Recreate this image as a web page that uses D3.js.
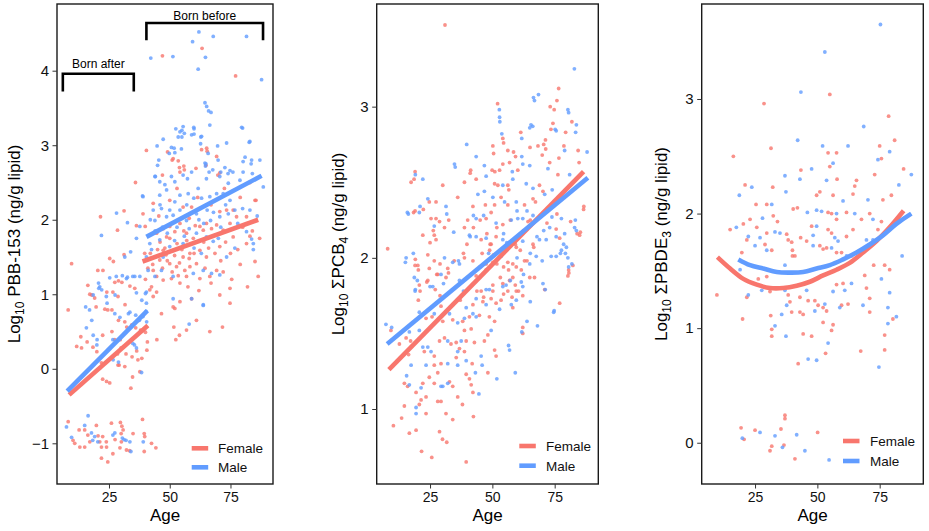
<!DOCTYPE html>
<html><head><meta charset="utf-8">
<script src="https://cdn.jsdelivr.net/npm/d3@7"></script>
<style>
body{margin:0;background:#fff}
svg{display:block}
text{font-family:"Liberation Sans",Arial,Helvetica,sans-serif}
</style>
</head><body>
<svg id="chart" width="929" height="531"></svg>
<script>
// ---------- data ----------
const sexes = ["Female", "Male"];
const ageDomain = [3.6, 92.5];
const xTicks = [25, 50, 75];
const pbbYTicks = [-1, 0, 1, 2, 3, 4];
const pcbYTicks = [1, 2, 3];
const pbdeYTicks = [0, 1, 2, 3];

// Panel 1: PBB-153 [age, log10 value]
const pbbFemale = [[63.3,4.30],[47,4.20],[77.1,3.93],
[40.4,2.93],[49.1,2.91],[65.2,2.96],[51,2.80],[54,2.70],[56,2.67],[69.3,2.85],[69.8,2.60],[35.9,2.50],[85.5,2.26],
[51.4,2.82],[53.5,2.79],[63.1,2.94],[65.4,2.92],[64.9,2.73],[54.2,2.64],[55.8,2.72],[60.8,2.69],[70.6,2.63],
[39,2.08],[43.2,2.22],[50,2.26],[55.5,2.17],[59,2.17],[70.6,2.11],[73.4,2.13],[76.1,2.13],[77.5,2.04],[81.6,2.04],[85.1,2.26],[74.8,1.95],[69.3,1.93],[65.1,1.95],[62.4,1.91],[54.2,1.95],[50,1.91],[47.3,1.88],[44.6,1.82],[48.7,1.77],[52.1,1.84],[56.9,1.82],[59.7,1.75],[63.8,1.86],[67.2,1.88],[72,1.86],[76.1,1.77],[81.6,1.68],[47.3,1.59],[51.4,1.59],[55.5,1.50],[58.3,1.55],[62.4,1.59],[65.1,1.50],[68.6,1.55],[70.6,1.64],[45.9,1.46],[50,1.41],[52.8,1.37],[56.2,1.32],[58.3,1.37],[61,1.41],[43.2,1.32],[44.6,1.24],[47.3,1.19],[50.7,1.21],[54.2,1.15],[56.9,1.24],[62.4,1.21],[66.5,1.24],[69.3,1.32],[42.5,1.10],[44.6,1.03],[43.2,0.97],[41.8,1.06],[54.2,0.90],[52.1,0.81],[59,0.94],[70.6,0.99],[74.8,0.88],[85.1,1.44],[86.4,1.24],[66.5,0.50],[61,0.65],[56.9,0.52],[51.7,0.56],[46.6,0.74],
[46,1.70],[48,1.62],[50,1.75],[53,1.68],[55,1.60],[57,1.72],[49,1.45],[52,1.52],[54,1.42],[58,1.48],[60,1.55],[47,1.35],[51,1.30],[53.5,1.25],[45,1.60],[44,1.50],[43,1.40],[48.5,1.53],[55.8,1.85],[60.5,1.92],[64,1.70],[66,1.62],[71,1.45],[73,1.70],[75,1.55],[78,1.60],[80,1.90],[83,1.78],[42,1.55],[41,1.35],[40,1.20],[57.5,1.10],[62,1.05],[64.5,1.35],[67,1.15],[72,1.30],[75.5,1.20],[79,1.40],[84,1.85],[82,1.10],[45.5,2.05],[58,2.02],[61.5,2.30],[67,2.20],[72.5,2.42],[79,2.30],[83,2.50],[87,1.75],[53,2.42],[47,2.60],
[51.4,0.83],[52.5,0.39],[54,0.45],[71.7,0.56],[74.8,1.08],
[21.5,2.04],[31.2,2.12],[28.5,1.86],[36.3,1.92],[25.3,1.48],[31.2,1.53],[9.6,1.41],[39.7,1.55],[8.2,0.79],[20.4,1.32],[22.5,1.32],[27.4,1.16],[30.3,1.16],[16.3,1.12],[17.1,1.00],[19.1,0.95],[26.6,1.03],[28.7,0.97],[33.6,1.11],[35.6,1.08],[23.3,0.80],[24.5,0.79],[28.9,0.65],[31.5,0.63],[36,0.55],[38,0.52],[40,0.49],[13.4,0.43],[18.4,0.29],[16,0.36],[22.4,0.45],[27.4,0.39],[30,0.28],[32,0.20],[34.5,0.16],[36.9,0.12],[28.7,0.05],[31.5,0.03],[22.4,-0.14],[24,-0.17],[25.3,-0.19],[34.7,-0.11],[34,-0.26],[37.7,-0.04],[21.9,0.08],[21.2,0.01],[11.7,0.30],[13.7,0.28],[26.8,1.44],[19.7,0.83],[26.2,0.79],[31.6,0.86],[32.3,0.56],[34.4,0.59],[37.1,0.65],[20,0.23],[40.8,0.36],[44.7,0.39],[26.2,0.50],[28.5,0.20],[29.6,0.39],[36.4,0.24],[38.5,0.14],[40.6,0.25],[29.2,0.05],[24.1,1.03],[39.9,1.91],[17.9,0.99],[28.9,1.18],
[8.2,-0.71],[10.2,-0.96],[12.7,-0.82],[15,-0.82],[16.3,-0.89],[19.8,-0.76],[20.5,-0.90],[21.2,-0.98],[21.9,-1.05],[15,-1.05],[17.1,-0.98],[22.4,-0.91],[24,-1.05],[21.9,-1.20],[24.5,-1.25],[23.9,-0.98],[26,-0.73],[29.7,-0.72],[30.3,-0.77],[30.8,-0.82],[30,-0.87],[26.6,-1.14],[30.1,-0.98],[29.5,-1.06],[32.2,-1.09],[34.9,-0.87],[38.8,-0.68],[39.5,-0.87],[39.7,-0.91],[39.5,-1.11],[42.5,-1.00],[44.3,-1.06],[10.9,-1.00],[13,-1.05],[27.5,-0.95],[33.5,-1.10]];

const pbbMale = [[62,4.52],[59.4,4.39],[67.9,4.46],[81.6,4.46],[42.2,4.17],[51.3,4.19],[64.7,4.18],[61.7,4.02],[87.8,3.88],[64.5,3.57],[65.2,3.52],[66,3.46],[67,3.44],[66.5,3.27],[52.5,3.22],[55,3.20],[56,3.16],[60,3.22],[60,3.15],[80,3.23],[47.3,3.08],[53.5,3.11],[55,3.11],[62.8,3.11],[83,3.05],[44.8,2.99],[50.7,2.97],[62.7,3.02],[69.7,2.99],[73.4,3.03],[54.8,2.95],[45.5,2.80],[45,2.73],[64.9,2.75],[64.7,2.72],[81,2.84],[83.5,2.75],[84,2.62],[87.1,2.80],[67.7,2.67],[71,2.64],[74,2.62],[76,2.64],[44.1,2.58],[88.5,2.44],[38.8,2.32],
[55.5,3.25],[59.9,3.24],[54.2,3.18],[59,3.14],[63.1,3.12],[79.6,3.24],[51.8,2.96],[82.7,3.04],[83.7,2.80],[80.2,2.78],[49.8,2.89],[52.1,2.90],[65.8,2.89],[66.2,2.64],[64.5,2.76],[69.9,2.80],[72.7,2.70],[74.8,2.66],[80.2,2.64],[43.9,2.58],[45.9,2.51],[48,2.47],[50.7,2.58],[52.1,2.51],[55.5,2.60],[57.3,2.55],[59,2.64],[61.7,2.42],[65.1,2.55],[70.6,2.58],[74.1,2.49],[78.9,2.53],
[48.7,2.40],[54.2,2.33],[57.6,2.35],[59.9,2.29],[63.1,2.29],[66.5,2.31],[69.3,2.35],[72,2.35],[74.8,2.26],[39,2.31],[45.9,2.33],[52.1,2.24],[43.2,2.13],[46.6,2.15],[50,2.13],[51.4,2.06],[54.2,2.13],[43.9,1.99],[48.7,2.04],[56.9,1.99],[61,2.08],[65.4,2.13],[66.8,1.99],[70.6,2.04],[74.1,2.08],[76.8,2.13],[83,2.13],[36.3,1.75],[37.7,1.91],[41.8,1.68],[45.9,1.73],[50,1.64],[55.5,1.68],[61,1.82],[65.1,1.77],[67.9,1.71],[73.4,1.50],[76.8,1.62],[83.7,1.74],[84.4,1.60],[84.4,1.68],[81.6,1.84],[47.3,1.50],[40.4,1.50],[41.1,1.32],[43.9,1.24],[46.6,1.32],[51.4,1.24],[59.7,1.28],[63.8,1.32],[67.2,1.28],[70.6,1.26],[40.4,1.03],[40.4,0.88],[51.4,0.94],[59,0.94],[63.8,0.85],[37.7,1.24],[32.2,1.21],[35.6,1.24],[58,0.60],[63.8,0.86],
[47,1.90],[49,1.82],[53,1.90],[56,1.78],[58,1.88],[62,2.00],[64,1.95],[68,2.10],[71,1.90],[44,1.85],[42,2.00],[46,2.20],[52,1.72],[60,1.62],[63,1.55],[70,1.75],[78,1.95],[86,2.05],[80,2.15],[42.5,1.60],[57,2.20],[73,2.20],
[21.9,1.79],[28.1,2.09],[32.6,1.96],[31.5,1.50],[33.9,1.57],[25.3,1.22],[28,1.24],[30.5,1.25],[32.6,1.23],[21.2,1.10],[20.8,1.08],[23.9,0.97],[24.2,0.88],[18.5,0.99],[36.3,1.02],[40,1.01],[15.4,0.83],[17,0.79],[27.4,0.74],[29.5,0.69],[33.6,0.76],[36,0.72],[37.5,0.65],[39,0.70],[40.5,0.63],[15.7,0.55],[18.5,0.45],[20.1,0.39],[26.6,0.39],[34.8,0.34],[36.3,0.28],[26.7,0.12],[38.4,-0.05],[17.9,0.65],[27.5,0.99],[33,0.74],[38.5,0.92],[40.3,0.77],[28.9,0.09],[20,0.32],[35.5,0.32],[22,1.06],[20.7,1.15],[34.8,1.24],
[7.5,-0.78],[9.6,-0.92],[15,-0.76],[16.4,-0.63],[17.8,-0.86],[19.1,-0.91],[18.3,-0.96],[20.4,-0.98],[26.6,-0.89],[27.4,-0.86],[30.5,-0.93],[32,-0.96],[33.6,-0.98],[34,-1.11],[39.1,-0.98],[31.2,-0.95]];

// fitted segments (born after / born before)
const pbbFitFemale = [[[8.6,-0.35],[41,0.58]], [[38.8,1.44],[86.4,2.00]]];
const pbbFitMale = [[[7.8,-0.30],[40.8,0.78]], [[40.4,1.77],[87.8,2.59]]];

// birth cohort brackets in panel 1
const bracketLabels = ["Born after", "Born before"];
const bracketAges = [[6, 35.2], [40.4, 88.4]];
const bracketTop = [3.96, 4.64];
const bracketFoot = [3.72, 4.41];
const bracketLabelValue = [4.04, 4.68];

// Panel 2: ΣPCB4
const pcbFemale = [[31,3.54],[76.6,3.12],[75.9,3.04],[73.2,3.00],[74.8,2.98],[52.1,3.02],[73.5,2.85],[81.9,2.90],[54.2,2.79],[54.5,2.76],[61.4,2.83],
[74.3,2.89],[79.4,2.83],[71.3,2.78],[70.6,2.75],[50.2,2.74],[65.1,2.73],[68.3,2.74],[71.4,2.72],[78.7,2.74],[84.4,2.71],[56.2,2.71],[58.5,2.70],[59.3,2.67],[50.5,2.69],[70,2.68],[76.7,2.66],[84.8,2.63],[54.2,2.62],[56.9,2.63],[49.9,2.58],[51,2.57],[52.9,2.58],[60.2,2.58],[73,2.63],[76.3,2.55],[17.4,2.50],[30.1,2.48],[38.8,2.50],[41.1,2.56],[43.5,2.52],[50.9,2.49],[52.2,2.48],[56.2,2.48],[56.6,2.45],[68.9,2.48],[70.3,2.44],[36.1,2.40],[24.7,2.37],[27.4,2.37],[42.2,2.34],[47.2,2.35],[50.9,2.35],[53.5,2.40],[56.2,2.35],[62.9,2.35],[66.3,2.39],[67.3,2.37],[75.6,2.37],[86.6,2.32],[18.4,2.30],[25.4,2.26],[28.8,2.24],[32.5,2.25],[26.7,2.15],[27.4,2.12],[30.8,2.20],[38.8,2.20],[40.1,2.25],[47.5,2.26],[49.5,2.30],[54.2,2.22],[64.3,2.24],[75.6,2.19],[81.4,2.24],[85,2.15],[77,2.13],[45.5,2.12],[49.5,2.09],[51.5,2.14],[59.6,2.07],[66.3,2.09],[8,2.06],[19.1,1.99],[20.1,1.95],[20.7,1.82],[24.1,2.02],[26.7,1.98],[32.1,1.93],[24.7,1.93],[28.1,1.89],[38.8,2.00],[42.2,1.98],[45.9,2.03],[48.9,2.05],[50.2,1.97],[47.5,1.96],[56.2,1.97],[58.2,1.96],[59.6,1.94],[61.6,1.92],[62.9,1.98],[65,1.87],[66.9,1.87],[82.3,1.95],[80.3,1.88],[43.5,1.88],[47.5,1.92],[50.2,1.82],[54.2,1.83],[56.9,1.85],[58.2,1.87],[31.4,1.87],[24.1,1.85],
[10.3,0.89],[13.6,0.94],[17.2,1.45],[19,2.57],[18.6,2.52],[19.4,0.86],[21.6,0.72],[25.7,0.68],[28.8,0.85],[30,0.80],[31.7,0.78],[39.5,0.65],[42.4,0.95],[41.3,2.58],[80.6,1.92],[85.3,2.17],[77,1.70],
[27.1,1.79],[45.5,1.78],[50.2,1.78],[56.2,1.78],[59.6,1.78],[71,1.79],[58.2,1.67],[62.2,1.54],[62.2,1.50],[50.9,1.39],[51.5,1.35],[48.2,1.24],[41.9,1.30],[39.5,1.23],[35.5,1.34],[38.8,1.38],[29.4,1.30],[26.7,1.29],[24.7,1.21],[28.1,1.24],[32.8,1.18],[34.1,1.15],[40.8,1.20],[41.5,1.16],[42.2,1.11],[36.1,1.08],[26.7,1.17],[22.1,1.17],[19.4,1.11],[23.4,1.08],[16,1.15],[14.7,1.17],[14.7,1.02],[21.4,1.06],[20.7,1.03],[23.4,0.97],[28.1,1.05],[29.4,1.05],[31.4,0.97],[38,1.03],[34.1,0.93],[16.7,0.84],[9.3,1.52],[12.7,1.43],[16.4,1.36],[22.7,1.38],[15.4,1.47],[26.7,1.35],[28.8,1.45],[30.8,1.47],[33.4,1.43],[35.5,1.44],[36.8,1.40],[39.5,1.45],[38.8,1.52],[41.5,1.53],[42.8,1.44],[46.8,1.45],[48.2,1.49],[50.9,1.58],[48.8,1.61],[44.8,1.62],[40.8,1.61],[38.1,1.58],[42.2,1.69],[46.2,1.71],[49.5,1.73],[51.5,1.70],[53.5,1.72],[23.4,1.60],[25.8,1.61],[30.1,1.58],[34.1,1.59],[29.4,1.68],[62.2,1.75],
[19,2.31],[22.3,2.32],[27.4,2.26],[22.1,2.15],[26.3,2.18],[25,2.10],[19,1.95],[20.3,1.92],[21,1.78],[20.3,1.72],[23.7,1.84],[27.7,1.89],[29,1.96],[32.4,1.90],[34.7,1.98],[38.4,2.03],[39.8,2.09],[42.4,2.20],[45.1,2.25],[47.8,2.16],[49.1,2.09],[50.5,2.02],[51.8,1.96],[54.5,1.94],[56.5,1.92],[53.2,1.87],[59.2,1.82],[60.5,1.78],[63.9,1.98],[66.6,2.07],[71.9,2.23],[75.9,2.29],[80.7,1.90],[84,2.16],[86.7,2.34],[43.8,1.78],[46.5,1.74],[54.5,1.76],[57.9,1.74],[45.1,1.94],[37.1,1.72],[29,1.75],[51.8,2.20],[57.2,2.25],[62.5,2.18],[65.2,2.25],[59.2,2.09],[61.2,2.05]];

const pcbMale = [[82.9,3.25],[68.5,3.08],[66.5,3.06],[80.3,2.98],[52.8,2.98],[52.9,2.93],[53,2.90],[65.5,2.88],[66.2,2.87],[75.2,2.85],[83.7,2.88],[53.8,2.82],[61.8,2.79],[39.7,2.75],
[66.9,3.04],[80.6,2.96],[65,2.86],[75.6,2.84],[83.4,2.83],[79,2.71],[88,2.70],[61.8,2.67],[43.5,2.67],[62.2,2.62],[46.8,2.61],[58,2.57],[65,2.61],[72.3,2.59],[81,2.55],[35.1,2.60],[19.1,2.55],[22.1,2.52],[47.5,2.54],[54.2,2.48],[63.6,2.49],[66.3,2.46],[71,2.42],[74,2.45],[58.2,2.52],[46.8,2.44],[44.2,2.42],[24.1,2.39],[31.4,2.34],[50.2,2.40],[54.9,2.37],[59.6,2.37],[63.9,2.31],[16.3,2.29],[20.7,2.30],[26.7,2.21],[34.5,2.17],[42.4,2.28],[43.5,2.26],[51.5,2.23],[57.6,2.25],[60.2,2.26],[62.2,2.26],[66.3,2.28],[73,2.20],[77.7,2.26],[83,2.20],[79,2.16],[75.6,2.14],[40.8,2.15],[43.5,2.14],[47.5,2.13],[54.2,2.12],[55.8,2.10],[62.2,2.11],[68.9,2.12],[71.6,2.12],[77.7,2.05],[79.7,2.07],[15.1,1.97],[18.7,1.87],[30.8,2.00],[34.1,1.97],[36.8,1.96],[53.5,2.01],[65,1.96],[67.6,2.01],[70.3,1.83],[73.6,2.01],[75.6,2.01],[80.3,2.00],[70,1.98],[47.5,1.79],[55.5,1.82],[61.6,1.84],[36.8,1.85],[29.4,1.89],
[7.3,1.56],[9.6,1.54],[34.8,2.62],[80.6,1.94],[81.9,1.96],[83.7,2.18],[74.8,1.65],[71.2,1.79],[68.1,1.55],[63.9,1.58],[61.8,1.51],[59.2,1.24],[51.8,1.20],[56.5,1.42],
[19.1,1.79],[26.1,1.81],[54.2,1.81],[62.2,1.81],[65.2,1.71],[57.6,1.69],[74.6,1.64],[56.9,1.39],[45.9,1.29],[43.2,1.24],[39.5,1.32],[36.1,1.29],[32.1,1.30],[23.4,1.29],[30.1,1.15],[32.1,1.17],[44.6,1.10],[29.4,1.15],[21.4,1.14],[16.7,1.16],[15.6,1.22],[19.4,1.01],[19.4,0.97],[17.4,1.29],[20.7,1.52],[16.7,1.51],[22.1,1.41],[24.1,1.41],[25.4,1.38],[32.1,1.45],[36.1,1.38],[37.5,1.45],[38.8,1.60],[45.5,1.35],[49.5,1.52],[43.5,1.61],[36.1,1.57],[39.5,1.67],[43.5,1.73],[47.5,1.69],[52.9,1.66],[42.2,1.63],[20.7,1.64],[26.7,1.63],[32.8,1.63],[48.8,1.79],[59.6,1.72],
[15.9,2.30],[21,2.34],[31.7,2.29],[18.3,2.03],[19.9,1.85],[19,1.78],[15.4,2.00],[25,1.81],[30.4,1.83],[36.4,1.98],[41.1,2.14],[46.5,2.28],[48.5,2.03],[57.2,1.85],[62.5,1.89],[65.2,2.03],[67.9,2.14],[70.6,2.18],[73.9,2.27],[78.6,2.09],[79.3,2.03],[77.3,2.03],[83.3,2.25],[42.4,1.83],[59.9,2.00],[38.4,1.78],[54.5,2.16],[59.9,2.31],[55.2,2.07]];

const pcbFitFemale = [[[8.5,1.26],[86.6,2.57]]];
const pcbFitMale = [[[7.8,1.43],[88.3,2.53]]];

// Panel 3: ΣPBDE3
const pbdeFemale = [[55,3.04],[28.6,2.96],[78.6,2.85],[81,2.64],[31.4,2.57],[75,2.59],[53.3,0.78],[42.3,0.69],[67.4,0.80],
[19.4,0.13],[20.6,0.03],[25,0.11],[31.7,-0.03],[31,-0.07],[35.4,0.12],[37,0.24],[37,0.21],[36.6,-0.02],[41,-0.14],[50.1,0.09],
[16.3,2.50],[54.3,2.53],[57.7,2.53],[55,2.41],[75.7,2.48],[84.6,2.39],[73,2.34],[43.4,2.38],[57.9,2.30],[65.7,2.29],[21,2.25],[32.1,2.23],[51,2.19],[65,2.24],[56.3,2.16],[49.7,2.16],[64.3,2.17],[76.3,2.12],[79.7,2.16],[25.4,2.08],[29.7,2.08],[42,2.05],[40.3,2.04],[54.3,2.01],[55.7,2.00],[57.7,1.95],[61.7,2.01],[71,2.00],[75.7,1.93],[23,1.95],[32.3,1.98],[34,1.93],[15,1.86],[20.3,1.91],[25.7,1.88],[29.7,1.83],[37.7,1.82],[38.3,1.77],[39.7,1.75],[40,1.68],[41,1.63],[43.3,1.79],[45.7,1.76],[47.7,1.89],[54.3,1.86],[55.7,1.83],[61.7,1.80],[64.3,1.86],[67.7,1.95],[74.3,1.86],[21.7,1.77],[29,1.73],[31.7,1.68],[40,1.63],[51,1.72],[52.3,1.69],[53.7,1.70],[57.7,1.66],[59.7,1.66],[63.7,1.63],[19.7,1.66],[9.7,1.29],[20,1.08],[21.7,1.27],[26.3,1.43],[29.7,1.45],[31,1.32],[38.3,1.29],[39,1.23],[43,1.27],[46.3,1.24],[49,1.24],[50.3,1.20],[52.3,1.18],[53.7,1.15],[44.3,1.12],[43,1.14],[39.7,1.14],[31.3,1.11],[31.7,0.99],[31.7,0.93],[44.3,0.95],[47.7,0.93],[52.3,1.05],[55.7,0.98],[56.3,1.03],[59.7,1.20],[62.3,1.21],[60.3,1.39],[57.7,1.38],[69,1.46],[72.6,1.55],[77,1.55],[79,1.51],[71,1.14],[80.3,1.08],[77,0.94],[77,0.81],[69.7,1.35],[71,1.26]];

const pbdeMale = [[75.3,3.65],[53,3.41],[43.4,3.06],[68.6,2.76],[42.1,2.64],[52.1,2.59],[62.3,2.59],
[49.7,0.72],[46.3,0.73],[74.7,0.66],
[19.9,0.04],[27,0.09],[33,0.06],[36,-0.04],[41.7,0.07],[45,-0.07],[54.7,-0.15],
[56.3,2.44],[79,2.54],[74.3,2.47],[87.7,2.34],[47.7,2.39],[37,2.33],[43,2.30],[53.7,2.29],[82.7,2.25],[23.7,2.23],[37.4,2.19],[18.7,2.16],[60.3,2.11],[70.3,2.12],[31.7,2.08],[46,2.01],[49.7,2.03],[51.7,2.02],[57.7,2.00],[65,2.00],[72.3,1.95],[28,1.96],[17.5,1.88],[33,1.84],[35,1.83],[48.3,1.81],[49.7,1.89],[57,1.79],[58.3,1.76],[69.7,1.77],[72.3,1.77],[22.3,1.80],[25,1.72],[27,1.79],[29.7,1.68],[37,1.55],[48.3,1.72],[55.7,1.70],[61.7,1.63],[19,1.51],[22.3,1.29],[27.7,1.33],[37,1.33],[37.7,1.20],[45.7,1.33],[53,1.21],[49,1.15],[35.7,1.12],[33,1.02],[37.4,0.93],[54.3,0.87],[59,1.18],[63.7,1.39],[61,1.33],[56.3,1.32],[75.7,1.43],[68.3,1.20],[78.3,1.18],[81.7,1.10],[78.3,1.04],[84,1.63],[79,1.31]];

const pbdeFitFemale = [[[9.9,1.62],[15,1.52],[20.3,1.43],[25.7,1.38],[31,1.35],[36.3,1.35],[41.7,1.37],[47,1.405],[52.3,1.46],[57.7,1.51],[63,1.57],[68.3,1.66],[73.7,1.76],[79,1.88],[84.6,2.025]]];
const pbdeFitMale = [[[18.3,1.60],[23,1.55],[28.3,1.52],[33.7,1.49],[39,1.485],[44.3,1.49],[49.7,1.52],[55,1.55],[60.3,1.60],[65.7,1.66],[71,1.73],[76.3,1.81],[81.7,1.91],[87.7,2.00]]];

// ---------- layout ----------
const colors = {Female: "#F8766D", Male: "#619CFF"};
const panels = [
  {x0: 57, x1: 273, y0: 4, y1: 484, yDomain: [-1.546, 4.895], yTicks: pbbYTicks,
   female: pbbFemale, male: pbbMale, fitF: pbbFitFemale, fitM: pbbFitMale,
   title: [["Log", 0], ["10", 1], [" PBB-153 (ng/g lipid)", 0]], titleX: 19.5,
   keyX: 191.7, keyY: [448.3, 467.3], textX: 218},
  {x0: 376.7, x1: 598.3, y0: 4, y1: 484, yDomain: [0.504, 3.679], yTicks: pcbYTicks,
   female: pcbFemale, male: pcbMale, fitF: pcbFitFemale, fitM: pcbFitMale,
   title: [["Log", 0], ["10", 1], [" \u03A3PCB", 0], ["4", 1], [" (ng/g lipid)", 0]], titleX: 344,
   keyX: 519.3, keyY: [446, 465.7], textX: 546},
  {x0: 701.7, x1: 923.3, y0: 4, y1: 484, yDomain: [-0.36, 3.829], yTicks: pbdeYTicks,
   female: pbdeFemale, male: pbdeMale, fitF: pbdeFitFemale, fitM: pbdeFitMale, curved: true,
   title: [["Log", 0], ["10", 1], [" \u03A3PBDE", 0], ["3", 1], [" (ng/g lipid)", 0]], titleX: 667,
   keyX: 843, keyY: [441, 461], textX: 870}
];

const svg = d3.select("#chart");
svg.append("rect").attr("width", 929).attr("height", 531).attr("fill", "#fff");

panels.forEach((p, idx) => {
  const g = svg.append("g");
  const x = d3.scaleLinear().domain(ageDomain).range([p.x0, p.x1]);
  const y = d3.scaleLinear().domain(p.yDomain).range([p.y1, p.y0]);

  // points
  [["Female", p.female], ["Male", p.male]].forEach(([sex, pts]) => {
    g.append("g").selectAll("circle").data(pts).join("circle")
      .attr("cx", d => x(d[0])).attr("cy", d => y(d[1]))
      .attr("r", 1.9).attr("fill", colors[sex]).attr("fill-opacity", 0.8);
  });

  // fit lines
  const line = d3.line().x(d => x(d[0])).y(d => y(d[1]));
  if (p.curved) line.curve(d3.curveCatmullRom);
  [["Female", p.fitF], ["Male", p.fitM]].forEach(([sex, segs]) => {
    segs.forEach(seg => {
      g.append("path").attr("d", line(seg)).attr("fill", "none")
        .attr("stroke", colors[sex]).attr("stroke-width", 4.6);
    });
  });

  // border
  g.append("rect").attr("x", p.x0).attr("y", p.y0)
    .attr("width", p.x1 - p.x0).attr("height", p.y1 - p.y0)
    .attr("fill", "none").attr("stroke", "#1a1a1a").attr("stroke-width", 1.4);

  // axes
  const ya = g.append("g").attr("transform", `translate(${p.x0},0)`)
    .call(d3.axisLeft(y).tickValues(p.yTicks).tickFormat(d3.format("d")).tickSize(4.5).tickPadding(3.5));
  ya.select(".domain").remove();
  ya.selectAll("line").attr("stroke", "#333");
  ya.selectAll("text").attr("font-size", 15).attr("fill", "#111")
    .attr("font-family", "Liberation Sans, Arial, sans-serif");

  const xa = g.append("g").attr("transform", `translate(0,${p.y1})`)
    .call(d3.axisBottom(x).tickValues(xTicks).tickSize(4.5).tickPadding(3.5));
  xa.select(".domain").remove();
  xa.selectAll("line").attr("stroke", "#333");
  xa.selectAll("text").attr("font-size", 14).attr("fill", "#111")
    .attr("font-family", "Liberation Sans, Arial, sans-serif");

  // axis titles
  g.append("text").attr("x", (p.x0 + p.x1) / 2).attr("y", 521)
    .attr("text-anchor", "middle").attr("font-size", 17).attr("fill", "#000").text("Age");

  const t = g.append("text")
    .attr("transform", `translate(${p.titleX},${(p.y0 + p.y1) / 2}) rotate(-90)`)
    .attr("text-anchor", "middle").attr("font-size", 17).attr("fill", "#000");
  let shifted = false;
  p.title.forEach(([s, sub]) => {
    const ts = t.append("tspan").text(s);
    if (sub && !shifted) { ts.attr("dy", 4).attr("font-size", 12); shifted = true; }
    else if (sub) { ts.attr("font-size", 12); }
    else if (shifted) { ts.attr("dy", -4); shifted = false; }
  });

  // legend
  sexes.forEach((sex, i) => {
    g.append("line").attr("x1", p.keyX).attr("x2", p.keyX + 16.5)
      .attr("y1", p.keyY[i]).attr("y2", p.keyY[i])
      .attr("stroke", colors[sex]).attr("stroke-width", 4.6);
    g.append("text").attr("x", p.textX).attr("y", p.keyY[i]).attr("dy", "0.36em")
      .attr("font-size", 13.5).attr("fill", "#111").text(sex);
  });

  // brackets (panel 1)
  if (idx === 0) {
    bracketLabels.forEach((lab, i) => {
      const [a0, a1] = bracketAges[i];
      g.append("path")
        .attr("d", `M${x(a0)},${y(bracketFoot[i])}V${y(bracketTop[i])}H${x(a1)}V${y(bracketFoot[i])}`)
        .attr("fill", "none").attr("stroke", "#000").attr("stroke-width", 2.6);
      g.append("text").attr("x", (x(a0) + x(a1)) / 2).attr("y", y(bracketLabelValue[i]))
        .attr("text-anchor", "middle").attr("font-size", 12).attr("fill", "#000").text(lab);
    });
  }
});
</script>
</body></html>
